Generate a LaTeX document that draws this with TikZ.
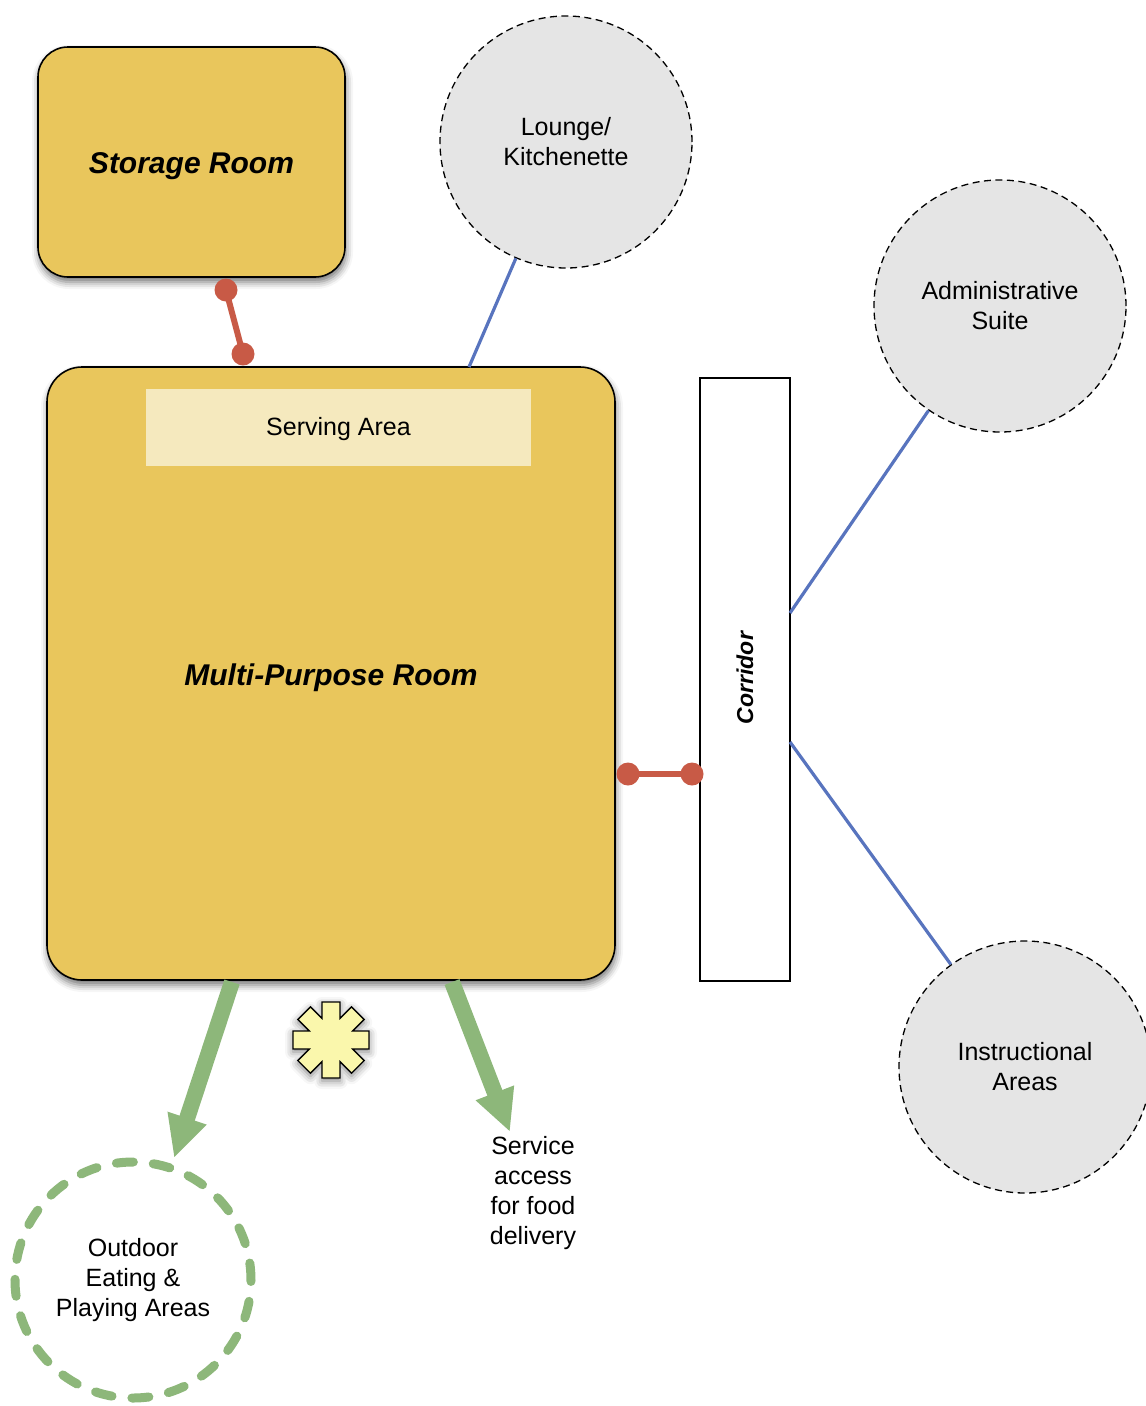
\documentclass[tikz,border=0pt]{standalone}
\usepackage{fontspec}
\setmainfont{Liberation Sans}
\usetikzlibrary{arrows.meta,shadows.blur}

\definecolor{roomgold}{RGB}{233,198,92}
\definecolor{servecream}{RGB}{245,233,190}
\definecolor{spacegray}{RGB}{229,229,229}
\definecolor{linkred}{RGB}{200,90,70}
\definecolor{linkblue}{RGB}{88,116,190}
\definecolor{flowgreen}{RGB}{141,183,122}
\definecolor{markeryellow}{RGB}{250,247,172}

% lower a label without changing the box it occupies
\newcommand{\droplabel}[2]{\raisebox{-#1}[\height][\depth]{#2}}

\tikzset{
  room/.style={draw=black, line width=1.6pt, fill=roomgold, inner sep=0pt,
    blur shadow={shadow xshift=1pt, shadow yshift=-5pt, shadow blur radius=7pt, shadow opacity=55},
    font=\fontsize{30}{36}\selectfont\bfseries\itshape},
  space/.style={circle, draw=black, line width=1.3pt, dash pattern=on 7pt off 4.5pt,
    fill=spacegray, minimum size=252pt, inner sep=0pt, align=center,
    font=\fontsize{25}{30}\selectfont},
  outdoor/.style={circle, draw=flowgreen, line width=9pt, dash pattern=on 17pt off 20pt,
    line cap=round, minimum size=236pt, inner sep=0pt, align=center,
    font=\fontsize{25}{30}\selectfont},
  plainlabel/.style={align=center, font=\fontsize{25}{30}\selectfont},
  redlink/.style={draw=linkred, line width=6pt},
  reddot/.style={fill=linkred},
  bluelink/.style={draw=linkblue, line width=3.2pt},
  flowarrow/.style={draw=flowgreen, line width=16pt,
    -{Triangle[width=38pt,length=42pt]}},
  markerstar/.style={draw=black, line width=1.4pt, fill=markeryellow,
    blur shadow={shadow xshift=0pt, shadow yshift=-3pt, shadow blur radius=8pt, shadow opacity=50}}
}

\begin{document}
\begin{tikzpicture}[x=1pt,y=-1pt]
  \useasboundingbox (0,0) rectangle (1146,1406);

  % rooms
  \node[room, rounded corners=30pt, minimum width=307pt, minimum height=230pt]
    (storage) at (191.5,162) {\droplabel{4pt}{Storage Room}};
  \node[room, rounded corners=35pt, minimum width=568pt, minimum height=613pt]
    (mpr) at (331,673.5) {\droplabel{4pt}{Multi-Purpose Room}};
  \node[fill=servecream, minimum width=385pt, minimum height=77pt, inner sep=0pt,
    font=\fontsize{25}{30}\selectfont] (serving) at (338.5,427.5) {\droplabel{2pt}{Serving Area}};

  % corridor
  \node[draw=black, line width=1.6pt, fill=white, minimum width=90pt, minimum height=603pt,
    inner sep=0pt] (corridor) at (745,679.5) {};
  \node[rotate=90, font=\fontsize{23}{28}\selectfont\bfseries\itshape]
    (corridorlabel) at (745,678) {Corridor};

  % surrounding spaces
  \node[space] (lounge) at (566,142) {Lounge/\\Kitchenette};
  \node[space] (admin) at (1000,306) {Administrative\\Suite};
  \node[space] (instr) at (1025,1067) {Instructional\\Areas};
  \node[outdoor] (outdoor) at (133,1280) {Outdoor\\Eating \&\\Playing Areas};
  \node[plainlabel] (service) at (533,1193) {Service\\access\\for food\\delivery};

  % connection points
  \coordinate (stA) at (226,290);
  \coordinate (stB) at (243,354);
  \coordinate (crA) at (628,774);
  \coordinate (crB) at (692,774);
  \coordinate (mprTop) at (469,367);
  \coordinate (corAdmin) at (790,613);
  \coordinate (corInstr) at (790,742);
  \coordinate (outStart) at (232,982);
  \coordinate (outTip) at (174,1158);
  \coordinate (svcStart) at (452,982);
  \coordinate (svcTip) at (510,1132);

  % direct adjacencies
  \draw[redlink] (stA) -- (stB);
  \fill[reddot] (stA) circle (11.5pt) (stB) circle (11.5pt);
  \draw[redlink] (crA) -- (crB);
  \fill[reddot] (crA) circle (11.5pt) (crB) circle (11.5pt);

  % nearby relations
  \draw[bluelink] (lounge) -- (mprTop);
  \draw[bluelink] (admin) -- (corAdmin);
  \draw[bluelink] (instr) -- (corInstr);

  % outside flows
  \draw[flowarrow] (outStart) -- (outTip);
  \draw[flowarrow] (svcStart) -- (svcTip);

  % entry marker
  \draw[markerstar, shift={(331,1040)}] (-13.3:39.05)
    \foreach \a in {0,45,...,315} { -- (\a-13.3:39.05) -- (\a+13.3:39.05) -- (\a+22.5:23.5) }
    -- cycle;
\end{tikzpicture}
\end{document}
